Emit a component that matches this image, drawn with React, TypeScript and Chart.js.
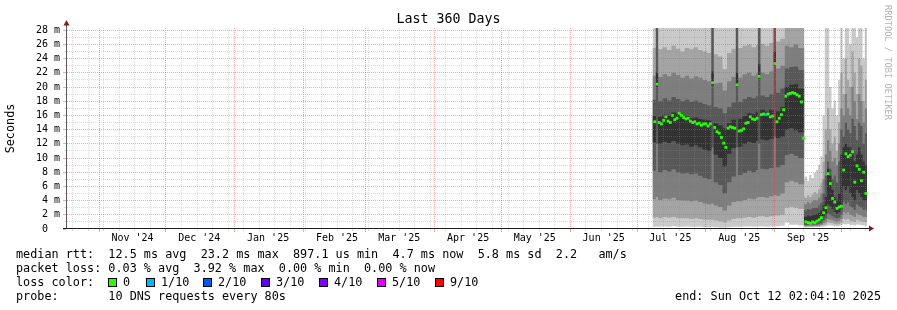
import React, { useEffect, useRef } from 'react';
import { Chart, registerables } from 'chart.js';

Chart.register(...registerables);

const MONO = "'DejaVu Sans Mono', monospace";

// ---- x axis (days since the start of the 360-day window) ----
const monthStartDays = [14.5, 44.5, 75.5, 106.5, 134.5, 165.5, 195.5, 226.5, 256.5, 287.5, 318.5, 348.5];
const monthLabelDays = [29.5, 59.5, 90.5, 121.5, 149.5, 180.5, 210.5, 241.5, 271.5, 302.5, 333.5];
const monthLabels = ["Nov '24", "Dec '24", "Jan '25", "Feb '25", "Mar '25", "Apr '25", "May '25", "Jun '25", "Jul '25", "Aug '25", "Sep '25"];
const firstWeekDay = 2.5;

// ---- y axis (milliseconds) ----
const yLabelValues = [0, 2, 4, 6, 8, 10, 12, 14, 16, 18, 20, 22, 24, 26, 28];
const yMax = 28.31;

// ---- smoke: sorted ping values per time bin (bin start days) ----
const smokeDays = [263.5, 265, 266, 268, 270, 272, 274, 276, 278, 280, 282, 284, 286, 288, 290, 291, 293, 295, 297, 299, 301, 302, 304, 306, 308, 310, 311, 312, 314, 316, 318, 319, 321, 323, 325, 327, 329,
  331.7, 332, 333, 334, 335, 336, 337, 338, 339, 340, 341, 342, 343, 344, 345, 346, 347, 348, 349, 350, 351, 352, 353, 354, 355, 356, 357, 358, 359, 360];

const ping10 = [30, 30, 30, 30, 30, 30, 30, 30, 30, 30, 30, 30, 30, 30, 30, 30, 30, 30, 30, 30, 30, 30, 30, 30, 30, 30, 30, 30, 30, 30, 30, 30, 30, 30, 30, 30, 30,
  7.0, 7.4, 6.8, 7.6, 7.2, 7.9, 8.3, 9.0, 10.2, 16.0, 30, 30, 20, 17, 18, 16, 21, 30, 24, 30, 30, 26, 30, 30, 27, 30, 30, 24, 30, 30];
const ping9 = [25.5, 30, 25.3, 25.6, 25.2, 25.8, 25.4, 25.0, 25.5, 25.3, 25.6, 25.2, 25.0, 24.8, 30, 24.6, 24.3, 22.5, 24.8, 25.4, 30, 25.5, 25.8, 26.0, 25.6, 25.9, 30, 26.1, 25.8, 26.2, 30, 26.4, 26.8, 29, 29, 29, 29,
  4.6, 4.4, 4.8, 4.5, 4.9, 5.2, 5.0, 5.6, 6.5, 9.5, 14, 17, 14, 12, 13, 11, 15, 22, 19, 24, 21, 20, 25, 22, 19, 24, 23, 18, 21, 21];
const ping8 = [21.6, 30, 21.4, 21.8, 21.5, 22.0, 21.7, 21.3, 21.6, 21.2, 21.5, 21.3, 21.0, 20.8, 30, 20.5, 20.6, 19.5, 20.8, 21.4, 30, 21.3, 21.8, 22.0, 21.6, 21.9, 30, 22.0, 21.8, 22.2, 30, 22.6, 23.0, 25.8, 25.6, 26.0, 25.5,
  3.6, 3.5, 3.8, 3.6, 3.9, 4.1, 4.0, 4.4, 5.0, 7.0, 10.5, 12.5, 11, 9.5, 10, 9, 12, 17, 16, 19, 17, 16, 20, 18, 15.5, 19, 18, 15, 17, 17];
const ping7 = [18.2, 30, 18.0, 18.4, 18.1, 18.6, 18.3, 18.0, 18.2, 17.9, 18.1, 17.8, 17.6, 17.4, 30, 17.2, 17.0, 16.3, 17.2, 17.8, 30, 17.9, 18.3, 18.6, 18.4, 18.7, 30, 18.8, 18.6, 19.0, 30, 19.2, 19.8, 22.6, 22.8, 22.9, 22.4,
  2.7, 2.6, 2.8, 2.7, 2.9, 3.0, 3.0, 3.3, 3.7, 5.0, 7.5, 9.5, 8.5, 7.0, 7.5, 6.5, 9.5, 14, 13, 15, 14, 13.5, 15.5, 14.5, 12.5, 15, 14.5, 12, 13.5, 13.5];
const ping6 = [15.9, 22.0, 15.8, 16.1, 16.0, 16.4, 16.2, 15.9, 15.9, 15.6, 15.7, 15.5, 15.4, 15.3, 22.2, 14.9, 14.6, 14.2, 14.9, 15.4, 22.0, 15.5, 15.9, 16.3, 16.2, 16.5, 23.2, 16.8, 16.5, 16.8, 25.0, 16.6, 17.2, 20.0, 20.3, 20.4, 19.8,
  1.8, 1.7, 1.9, 1.8, 1.9, 2.0, 2.1, 2.3, 2.6, 3.3, 4.5, 8.5, 7.5, 5.5, 4.5, 4.0, 5.0, 10.5, 11.5, 12, 11.5, 11.5, 10.5, 9.5, 10.5, 11.5, 10.5, 9.5, 9.0, 9.0];
const ping5 = [12.2, 20.0, 12.0, 12.3, 12.1, 12.4, 12.0, 11.8, 11.9, 11.6, 11.8, 11.5, 11.2, 11.0, 20.2, 10.5, 10.0, 8.8, 10.6, 11.4, 20.0, 11.6, 12.0, 12.3, 12.1, 12.4, 21.2, 12.6, 12.5, 12.7, 23.0, 12.8, 13.0, 14.0, 14.2, 13.9, 13.6,
  0.8, 0.75, 0.8, 0.8, 0.85, 0.9, 0.9, 1.0, 1.2, 1.8, 2.2, 3.5, 3.2, 2.8, 2.4, 2.2, 2.4, 2.8, 6.0, 5.5, 6.0, 5.0, 4.5, 4.0, 5.5, 5.0, 4.5, 4.0, 4.0, 4.0];
const ping4 = [8.2, 12.0, 8.0, 8.3, 8.1, 8.4, 8.0, 7.8, 7.9, 7.7, 7.8, 7.5, 7.2, 7.0, 11.5, 6.6, 6.2, 5.0, 6.6, 7.4, 11.5, 7.6, 7.9, 8.2, 8.0, 8.3, 12.0, 8.5, 8.4, 8.6, 13.0, 8.7, 9.0, 10.4, 10.6, 10.3, 10.0,
  0.6, 0.55, 0.6, 0.6, 0.62, 0.65, 0.65, 0.7, 0.8, 1.2, 1.5, 2.2, 2.0, 1.8, 1.6, 1.5, 1.6, 2.0, 3.8, 3.5, 3.8, 3.2, 3.0, 2.7, 3.5, 3.2, 3.0, 2.7, 2.7, 2.7];
const ping3 = [4.2, 4.5, 4.1, 4.3, 4.2, 4.4, 4.1, 4.0, 4.0, 3.9, 4.0, 3.8, 3.6, 3.5, 3.6, 3.3, 3.1, 2.6, 3.3, 3.8, 3.9, 3.9, 4.1, 4.3, 4.2, 4.4, 4.5, 4.5, 4.4, 4.6, 4.8, 4.7, 5.0, 6.6, 6.8, 6.6, 6.3,
  0.45, 0.42, 0.45, 0.45, 0.47, 0.5, 0.5, 0.52, 0.6, 0.8, 1.0, 1.4, 1.3, 1.2, 1.1, 1.0, 1.1, 1.4, 2.4, 2.2, 2.4, 2.0, 1.9, 1.7, 2.2, 2.0, 1.9, 1.7, 1.7, 1.7];
const ping2 = [1.6, 1.7, 1.5, 1.7, 1.6, 1.7, 1.5, 1.5, 1.5, 1.4, 1.5, 1.4, 1.3, 1.3, 1.3, 1.2, 1.1, 0.9, 1.2, 1.4, 1.5, 1.5, 1.6, 1.7, 1.6, 1.7, 1.8, 1.8, 1.7, 1.8, 1.9, 1.9, 2.0, 3.0, 3.1, 3.0, 2.8,
  0.35, 0.33, 0.35, 0.35, 0.36, 0.38, 0.38, 0.4, 0.45, 0.55, 0.65, 0.9, 0.85, 0.8, 0.7, 0.65, 0.7, 0.9, 1.4, 1.3, 1.4, 1.2, 1.1, 1.0, 1.3, 1.2, 1.1, 1.0, 1.0, 1.0];
const ping1 = [0.3, 0.35, 0.3, 0.35, 0.3, 0.4, 0.3, 0.3, 0.35, 0.3, 0.3, 0.3, 0.25, 0.25, 0.3, 0.25, 0.2, 0.2, 0.25, 0.3, 0.3, 0.3, 0.35, 0.35, 0.3, 0.35, 0.35, 0.35, 0.3, 0.35, 0.4, 0.4, 0.45, 0.9, 0.6, 0.6, 0.5,
  0.25, 0.24, 0.25, 0.25, 0.26, 0.27, 0.27, 0.28, 0.3, 0.35, 0.4, 0.5, 0.5, 0.45, 0.42, 0.4, 0.42, 0.55, 0.7, 0.65, 0.7, 0.6, 0.55, 0.5, 0.65, 0.6, 0.55, 0.5, 0.5, 0.5];

// ---- median rtt (ms), one per day bin ----
const medianDays = [264, 265, 266, 267, 268, 269, 270, 271, 272, 273, 274, 275, 276, 277, 278, 279, 280, 281, 282, 283, 284, 285, 286, 287, 288, 289,
  290, 291, 292, 293, 294, 295, 296, 297, 298, 299, 300, 301, 302, 303, 304, 305, 306, 307, 308, 309, 310, 311, 312, 313, 314, 315, 316, 317, 318, 319,
  320, 321, 322, 323, 324, 325, 326, 327, 328, 329, 330, 331, 332, 333, 334, 335, 336, 337, 338, 339, 340, 341, 342, 343, 344, 345, 346, 347, 348, 349,
  350, 351, 352, 353, 354, 355, 356, 357, 358, 359];
const medianMs = [15.1, 20.4, 15.0, 14.8, 15.3, 15.8, 15.2, 15.0, 16.0, 15.4, 15.6, 16.3, 16.0, 15.7, 15.5, 15.6, 15.2, 15.0, 15.1, 14.8, 14.9, 14.6, 14.8, 14.8, 14.5, 14.8,
  20.6, 14.3, 13.7, 13.5, 12.9, 12.1, 11.5, 14.2, 14.4, 14.3, 14.2, 20.3, 13.8, 13.9, 14.1, 14.9, 15.0, 15.8, 15.5, 15.4, 15.6, 21.5, 16.1, 16.2, 16.1, 16.2, 15.8, 15.9, 23.3, 15.1,
  15.6, 16.1, 16.8, 18.7, 19.0, 19.1, 19.2, 19.1, 18.9, 18.7, 17.9, 12.8, 1.0, 0.9, 0.8, 1.0, 0.9, 1.1, 1.3, 1.6, 2.3, 3.0, 7.8, 6.4, 4.3, 3.8, 2.9, 3.1, 3.2, 8.3,
  10.6, 10.2, 10.4, 10.9, 6.6, 8.9, 8.4, 6.8, 8.0, 5.0];
const lossDays = [314];
const lossLevels = ['1/10'];

// ---- legend ----
const legendLevels = ['0', '1/10', '2/10', '3/10', '4/10', '5/10', '9/10'];
const legendColors = ['#26ff00', '#00b8ff', '#0059ff', '#5e00ff', '#7e00ff', '#dd00ff', '#ff0000'];
const legendBoxX = [108, 146, 203, 261, 319, 377, 435];
const statMedian = 'median rtt:  12.5 ms avg  23.2 ms max  897.1 us min  4.7 ms now  5.8 ms sd  2.2   am/s';
const statLoss = 'packet loss: 0.03 % avg  3.92 % max  0.00 % min  0.00 % now';
const probeText = 'probe:       10 DNS requests every 80s';
const endText = 'end: Sun Oct 12 02:04:10 2025';

const smokeShades = ['#cacaca', '#a4a4a4', '#7e7e7e', '#585858', '#323232'];
const MINOR = 'rgba(143,143,143,0.32)';
const MAJOR = 'rgba(222,79,79,0.48)';

const rrdPlugin = {
  id: 'rrdGrid',
  afterDatasetsDraw(chart: any) {
    const { ctx, chartArea: a, scales } = chart;
    const xs = scales.x, ys = scales.y;
    const px = (v: number) => Math.floor(xs.getPixelForValue(v)) + 0.5;
    const py = (v: number) => Math.floor(ys.getPixelForValue(v)) + 0.5;
    const weeks: number[] = [];
    for (let d = firstWeekDay; d < 360; d += 7) weeks.push(d);
    ctx.save();
    ctx.lineWidth = 1;
    // minor grid
    ctx.setLineDash([1, 1]);
    ctx.strokeStyle = MINOR;
    ctx.beginPath();
    for (const d of weeks) { if (monthStartDays.some(m => Math.abs(m - d) < 0.3)) continue; const x = px(d); ctx.moveTo(x, a.top); ctx.lineTo(x, a.bottom); }
    for (let v = 1; v < 28.5; v += 2) { const y = py(v); ctx.moveTo(a.left, y); ctx.lineTo(a.right, y); }
    ctx.stroke();
    // major grid
    ctx.strokeStyle = MAJOR;
    ctx.beginPath();
    for (const d of monthStartDays) { const x = px(d); ctx.moveTo(x, a.top); ctx.lineTo(x, a.bottom); }
    for (const v of yLabelValues) { if (v === 0) continue; const y = py(v); ctx.moveTo(a.left, y); ctx.lineTo(a.right, y); }
    ctx.stroke();
    // tick marks outside the plot
    ctx.setLineDash([]);
    ctx.strokeStyle = MINOR;
    ctx.beginPath();
    for (const d of weeks) { const x = px(d); ctx.moveTo(x, a.bottom); ctx.lineTo(x, a.bottom + 2); }
    for (let v = 1; v < 28.5; v += 2) { const y = py(v); ctx.moveTo(a.left - 3, y); ctx.lineTo(a.left - 1, y); }
    ctx.stroke();
    ctx.strokeStyle = MAJOR;
    ctx.beginPath();
    for (const d of monthStartDays) { const x = px(d); ctx.moveTo(x, a.bottom); ctx.lineTo(x, a.bottom + 3); }
    for (const v of yLabelValues) { const y = py(v); ctx.moveTo(a.left - 4, y); ctx.lineTo(a.left - 1, y); }
    ctx.stroke();
    // axes
    ctx.strokeStyle = '#5a5a5a';
    ctx.beginPath();
    ctx.moveTo(a.left - 0.5, a.bottom); ctx.lineTo(a.left - 0.5, a.top - 3);
    ctx.stroke();
    ctx.strokeStyle = '#1f1f1f';
    ctx.beginPath();
    ctx.moveTo(a.left - 4, a.bottom - 0.5); ctx.lineTo(a.right + 2, a.bottom - 0.5);
    ctx.stroke();
    // arrows
    ctx.fillStyle = '#801f1f';
    ctx.beginPath();
    ctx.moveTo(a.left - 0.5, a.top - 8); ctx.lineTo(a.left - 3.5, a.top - 2.5); ctx.lineTo(a.left + 2.5, a.top - 2.5); ctx.closePath();
    ctx.fill();
    ctx.beginPath();
    ctx.moveTo(a.right + 7, a.bottom - 0.5); ctx.lineTo(a.right + 2, a.bottom - 3.5); ctx.lineTo(a.right + 2, a.bottom + 2.5); ctx.closePath();
    ctx.fill();
    ctx.restore();
  },
};

export default function App() {
  const ref = useRef<HTMLCanvasElement>(null);
  useEffect(() => {
    const pings = [ping1, ping2, ping3, ping4, ping5, ping6, ping7, ping8, ping9, ping10];
    const toPts = (arr: number[]) => arr.map((v, i) => ({ x: smokeDays[i], y: v }));
    const lineBase = { borderWidth: 0, borderColor: 'transparent', pointRadius: 0, pointHitRadius: 0, stepped: 'before', tension: 0 };
    const colorFor = (day: number) => {
      const k = lossDays.indexOf(day);
      return k < 0 ? legendColors[0] : legendColors[legendLevels.indexOf(lossLevels[k])];
    };
    const datasets: any[] = [{
      data: medianDays.map((d, i) => ({ x: d + 0.5, y: medianMs[i] })),
      showLine: false,
      pointStyle: 'rect',
      pointRadius: 2,
      pointBorderWidth: 0,
      pointBackgroundColor: (c: any) => colorFor(medianDays[c.dataIndex]),
      borderColor: 'transparent',
    }];
    for (let k = 4; k >= 0; k--) {
      datasets.push({ ...lineBase, data: toPts(pings[9 - k]), fill: '+1', backgroundColor: smokeShades[k] });
      datasets.push({ ...lineBase, data: toPts(pings[k]), fill: false });
    }
    const chart = new Chart(ref.current!, {
      type: 'line',
      data: { datasets },
      plugins: [rrdPlugin],
      options: {
        responsive: false,
        animation: false,
        events: [],
        devicePixelRatio: 1,
        layout: { padding: { left: 0, right: 30, top: 28, bottom: 0 } },
        plugins: { legend: { display: false }, tooltip: { enabled: false }, title: { display: false } },
        scales: {
          x: {
            type: 'linear', min: 0, max: 360, bounds: 'data',
            afterBuildTicks: (s: any) => { s.ticks = monthLabelDays.map(v => ({ value: v })); },
            afterFit: (s: any) => { s.height = 81; },
            grid: { display: false, drawTicks: false },
            border: { display: false },
            ticks: {
              autoSkip: false, maxRotation: 0, minRotation: 0, padding: 3, color: '#000',
              font: { family: MONO, size: 10 },
              callback: (_v: any, i: number) => monthLabels[i],
            },
          },
          y: {
            type: 'linear', min: 0, max: yMax, bounds: 'data',
            afterBuildTicks: (s: any) => { s.ticks = yLabelValues.map(v => ({ value: v })); },
            afterFit: (s: any) => { s.width = 67; },
            grid: { display: false, drawTicks: false },
            border: { display: false },
            ticks: {
              padding: 7, color: '#000', autoSkip: false,
              font: { family: MONO, size: 10 },
              callback: (v: any) => (v === 0 ? '0  ' : `${v} m`),
            },
            title: {
              display: true, text: 'Seconds', color: '#000',
              font: { family: MONO, size: 11.8 },
              padding: { top: 3.5, bottom: 0 },
            },
          },
        },
      } as any,
    } as any);
    return () => chart.destroy();
  }, []);

  const lineStyle = (top: number): React.CSSProperties => ({
    position: 'absolute', left: 16, top, fontSize: '11.8px', lineHeight: '14px', whiteSpace: 'pre',
  });

  return (
    <div style={{ position: 'absolute', left: 0, top: 0, width: 897, height: 310, background: '#fff', overflow: 'hidden', fontFamily: MONO, color: '#000' }}>
      <canvas ref={ref} width={897} height={310} style={{ position: 'absolute', left: 0, top: 0, display: 'block' }} />
      <div style={{ position: 'absolute', left: 0, top: 11, width: 897, textAlign: 'center', fontSize: '13.3px', lineHeight: '16px', whiteSpace: 'pre' }}>Last 360 Days</div>
      <div style={{ position: 'absolute', left: 881, top: 5, width: 13, writingMode: 'vertical-rl', fontSize: '8.7px', lineHeight: '13px', color: '#b4b4b4', whiteSpace: 'pre' }}>RRDTOOL / TOBI OETIKER</div>
      <div style={lineStyle(247)}>{statMedian}</div>
      <div style={lineStyle(261)}>{statLoss}</div>
      <div style={lineStyle(275)}>loss color:</div>
      {legendLevels.map((lv, i) => (
        <React.Fragment key={lv}>
          <div style={{ position: 'absolute', left: legendBoxX[i], top: 278, width: 9, height: 9, boxSizing: 'border-box', border: '1px solid #000', background: legendColors[i] }} />
          <div style={{ ...lineStyle(275), left: legendBoxX[i] + 15 }}>{lv}</div>
        </React.Fragment>
      ))}
      <div style={lineStyle(289)}>{probeText}</div>
      <div style={{ ...lineStyle(289), left: 'auto', right: 16 }}>{endText}</div>
    </div>
  );
}
